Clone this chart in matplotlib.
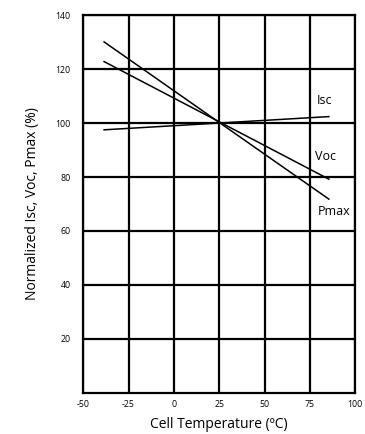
import matplotlib
matplotlib.use("Agg")
import matplotlib.pyplot as plt

plt.rcParams['font.family'] = ['Open Sans', 'DejaVu Sans']

temps = [-38.5, 85.5]
isc = [97.5, 102.4]
voc = [122.8, 79.2]
pmax = [130.1, 71.8]
series_names = ["Isc", "Voc", "Pmax"]
label_pos = [(79, 108.5), (78, 87.5), (79.5, 67.3)]
x_ticks = [-50, -25, 0, 25, 50, 75, 100]
y_ticks = [20, 40, 60, 80, 100, 120, 140]

fig = plt.figure(figsize=(3.65, 4.34), dpi=100)
ax = fig.add_axes([0.228, 0.095, 0.745, 0.87])
ax.set_xlim(-50, 100)
ax.set_ylim(0, 140)
ax.set_xticks(x_ticks)
ax.set_yticks(y_ticks)
ax.set_xticklabels([str(t) for t in x_ticks], fontsize=6.3)
ax.set_yticklabels([str(t) for t in y_ticks], fontsize=6.3)
ax.tick_params(length=0)
ax.tick_params(axis='x', pad=5)
ax.tick_params(axis='y', pad=9)
ax.grid(True, color='black', linewidth=1.6)
for s in ax.spines.values():
    s.set_linewidth(1.6)
    s.set_color('black')

ax.set_axisbelow(True)
for vals in (isc, voc, pmax):
    ax.plot(temps, vals, color='black', linewidth=1.1)
for name, (x, y) in zip(series_names, label_pos):
    ax.text(x, y, name, fontsize=9, ha='left', va='center')

ax.set_xlabel("Cell Temperature (ºC)", fontsize=10, labelpad=6)
ax.set_ylabel("Normalized Isc, Voc, Pmax (%)", fontsize=10, labelpad=11)
fig.savefig("out.png", dpi=100)
